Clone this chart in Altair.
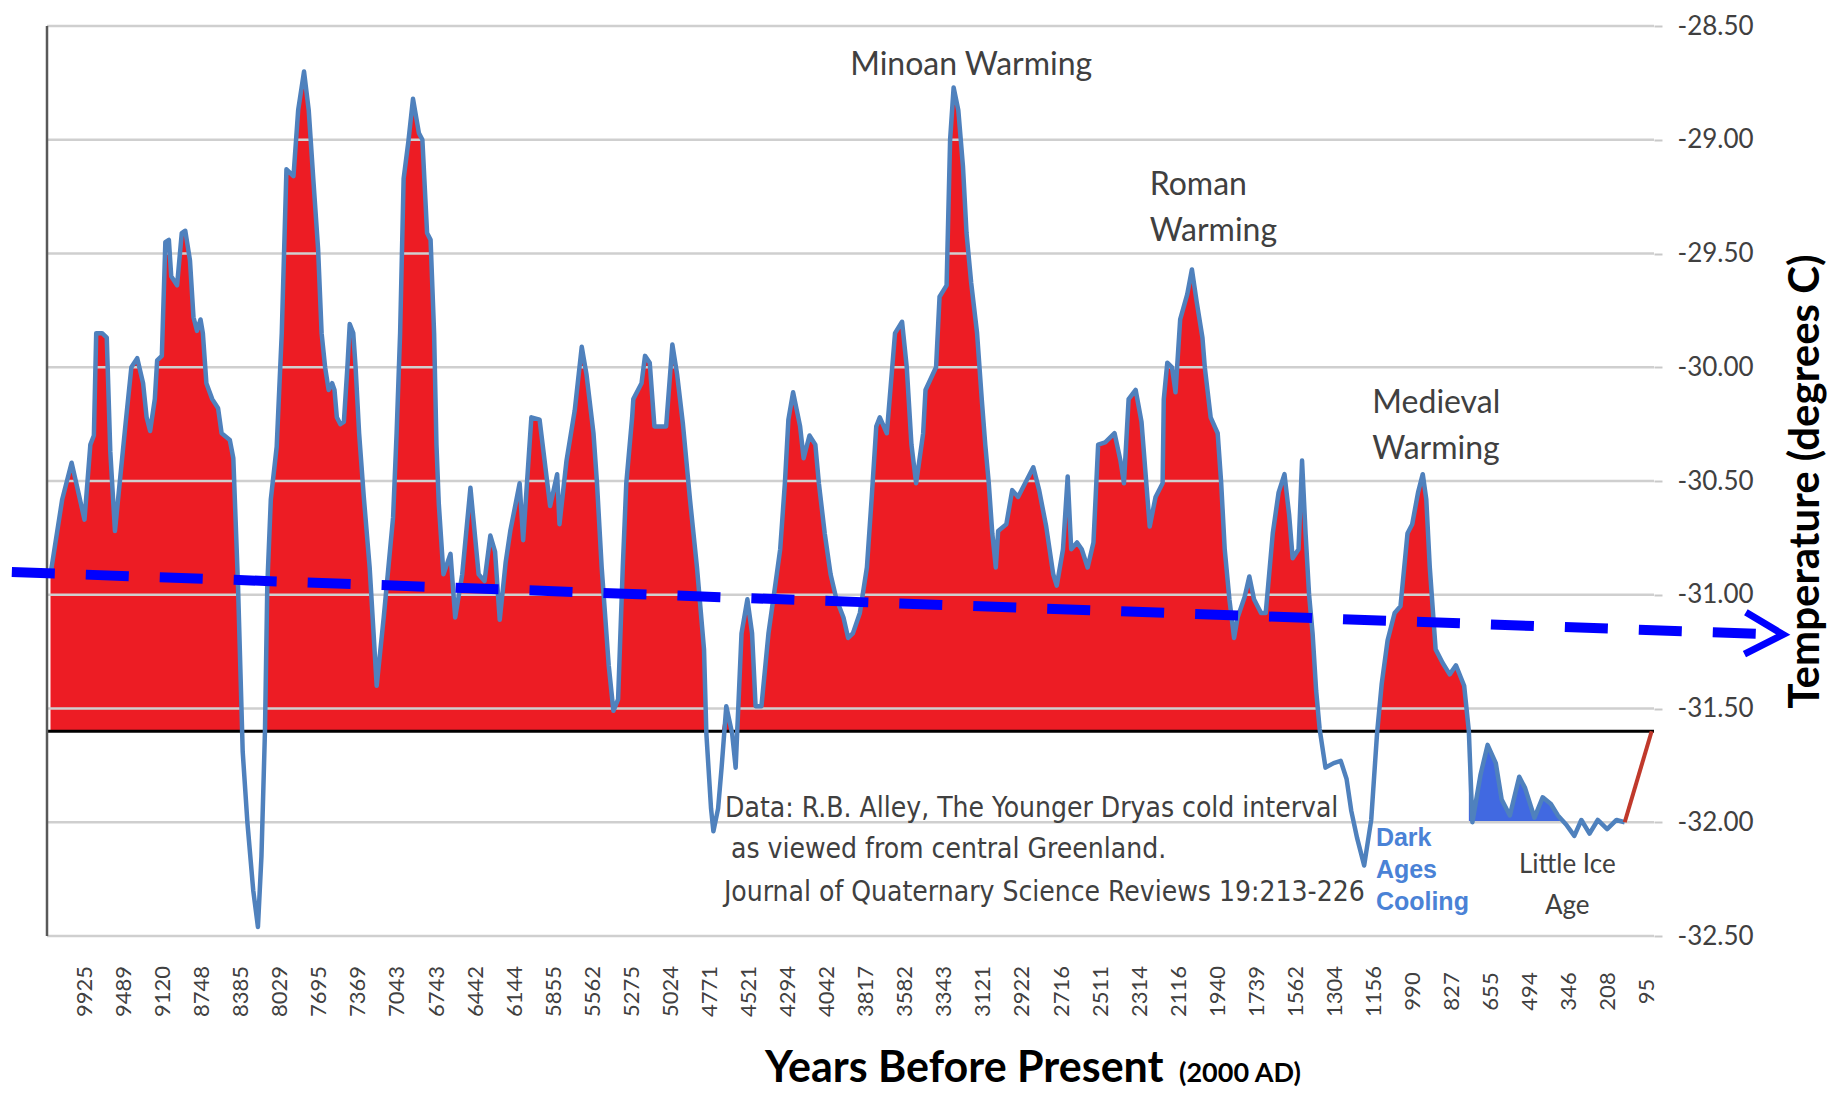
import json
import altair as alt
import pandas as pd

# ---------------- data ----------------
tick_labels = ["9925", "9489", "9120", "8748", "8385", "8029", "7695", "7369", "7043", "6743",
               "6442", "6144", "5855", "5562", "5275", "5024", "4771", "4521", "4294", "4042",
               "3817", "3582", "3343", "3121", "2922", "2716", "2511", "2314", "2116", "1940",
               "1739", "1562", "1304", "1156", "990", "827", "655", "494", "346", "208", "95"]

# position along the category axis (in label steps) and temperature (deg C)
pos = [
    -0.87, -0.57, -0.33, -0.21, 0.00, 0.15, 0.24, 0.30, 0.45, 0.57,
    0.66, 0.78, 0.90, 1.05, 1.20, 1.35, 1.50, 1.59, 1.68, 1.80,
    1.86, 1.98, 2.07, 2.16, 2.22, 2.37, 2.49, 2.58, 2.70, 2.79,
    2.88, 2.97, 3.03, 3.12, 3.27, 3.42, 3.51, 3.72, 3.81, 3.93,
    4.05, 4.17, 4.32, 4.44, 4.53, 4.62, 4.68, 4.77, 4.92, 5.05,
    5.17, 5.35, 5.47, 5.62, 5.74, 5.86, 5.98, 6.07, 6.16, 6.25,
    6.34, 6.40, 6.46, 6.55, 6.64, 6.73, 6.79, 6.88, 6.94, 7.03,
    7.15, 7.30, 7.48, 7.66, 7.90, 7.99, 8.08, 8.17, 8.29, 8.41,
    8.56, 8.65, 8.77, 8.86, 8.95, 9.01, 9.07, 9.19, 9.37, 9.49,
    9.67, 9.88, 10.09, 10.24, 10.39, 10.51, 10.63, 10.78, 10.90, 11.14,
    11.23, 11.44, 11.65, 11.92, 12.10, 12.16, 12.34, 12.55, 12.73, 12.85,
    13.03, 13.12, 13.24, 13.42, 13.54, 13.66, 13.78, 13.87, 14.02, 14.05,
    14.26, 14.35, 14.47, 14.59, 14.89, 15.05, 15.17, 15.32, 15.50, 15.68,
    15.86, 15.92, 16.04, 16.10, 16.22, 16.31, 16.43, 16.58, 16.67, 16.82,
    16.97, 17.09, 17.18, 17.33, 17.51, 17.69, 17.81, 17.93, 18.02, 18.14,
    18.32, 18.41, 18.56, 18.71, 18.80, 18.95, 19.10, 19.25, 19.43, 19.55,
    19.67, 19.85, 20.03, 20.15, 20.27, 20.36, 20.54, 20.75, 20.93, 21.05,
    21.17, 21.29, 21.47, 21.53, 21.80, 21.89, 22.07, 22.16, 22.25, 22.37,
    22.49, 22.58, 22.70, 22.85, 22.97, 23.06, 23.15, 23.24, 23.33, 23.39,
    23.60, 23.75, 23.90, 24.08, 24.29, 24.44, 24.62, 24.80, 24.89, 25.05,
    25.17, 25.26, 25.41, 25.53, 25.68, 25.83, 25.95, 26.13, 26.37, 26.52,
    26.61, 26.73, 26.91, 27.06, 27.27, 27.42, 27.60, 27.63, 27.72, 27.84,
    27.93, 28.05, 28.23, 28.35, 28.47, 28.62, 28.68, 28.83, 29.01, 29.10,
    29.19, 29.31, 29.43, 29.52, 29.70, 29.82, 29.94, 30.12, 30.24, 30.42,
    30.57, 30.72, 30.84, 30.93, 31.08, 31.17, 31.26, 31.35, 31.44, 31.53,
    31.62, 31.77, 31.98, 32.16, 32.31, 32.43, 32.58, 32.76, 32.94, 33.09,
    33.21, 33.36, 33.54, 33.69, 33.87, 33.99, 34.14, 34.26, 34.35, 34.44,
    34.59, 34.77, 34.95, 35.11, 35.32, 35.44, 35.53, 35.74, 35.92, 36.13,
    36.28, 36.49, 36.73, 36.88, 37.12, 37.33, 37.54, 37.72, 37.93, 38.14,
    38.32, 38.53, 38.74, 38.98, 39.22, 39.43, 40.12,
]
temp = [
    -30.91, -30.58, -30.42, -30.51, -30.67, -30.34, -30.30, -29.85, -29.85, -29.87,
    -30.37, -30.72, -30.51, -30.25, -30.00, -29.96, -30.07, -30.22, -30.28, -30.14,
    -29.97, -29.95, -29.45, -29.44, -29.60, -29.64, -29.41, -29.40, -29.53, -29.78,
    -29.84, -29.79, -29.85, -30.07, -30.14, -30.18, -30.29, -30.32, -30.40, -30.96,
    -31.69, -32.00, -32.30, -32.46, -32.15, -31.60, -30.96, -30.58, -30.35, -29.85,
    -29.13, -29.16, -28.87, -28.70, -28.87, -29.18, -29.48, -29.85, -30.00, -30.10,
    -30.07, -30.10, -30.22, -30.25, -30.24, -30.00, -29.81, -29.85, -30.00, -30.29,
    -30.57, -30.88, -31.40, -31.10, -30.66, -30.29, -29.85, -29.17, -29.01, -28.82,
    -28.97, -29.00, -29.41, -29.44, -29.85, -30.34, -30.60, -30.91, -30.82, -31.10,
    -30.91, -30.53, -30.91, -30.94, -30.74, -30.81, -31.11, -30.86, -30.72, -30.51,
    -30.76, -30.22, -30.23, -30.61, -30.47, -30.69, -30.41, -30.19, -29.91, -30.03,
    -30.29, -30.51, -30.88, -31.31, -31.51, -31.46, -30.88, -30.51, -30.22, -30.14,
    -30.07, -29.95, -29.98, -30.26, -30.26, -29.90, -30.03, -30.25, -30.58, -30.88,
    -31.24, -31.61, -31.94, -32.04, -31.94, -31.76, -31.49, -31.61, -31.76, -31.17,
    -31.02, -31.17, -31.49, -31.49, -31.17, -30.95, -30.80, -30.51, -30.23, -30.11,
    -30.26, -30.40, -30.30, -30.34, -30.51, -30.73, -30.91, -31.02, -31.10, -31.19,
    -31.17, -31.08, -30.88, -30.58, -30.26, -30.22, -30.29, -29.85, -29.80, -30.00,
    -30.34, -30.51, -30.29, -30.10, -30.00, -29.69, -29.64, -29.00, -28.77, -28.87,
    -29.12, -29.41, -29.63, -29.85, -30.14, -30.34, -30.51, -30.73, -30.88, -30.72,
    -30.69, -30.54, -30.57, -30.51, -30.44, -30.54, -30.70, -30.91, -30.96, -30.80,
    -30.48, -30.80, -30.77, -30.80, -30.88, -30.77, -30.34, -30.33, -30.29, -30.41,
    -30.51, -30.14, -30.10, -30.24, -30.70, -30.57, -30.51, -30.14, -29.98, -30.00,
    -30.11, -29.79, -29.68, -29.57, -29.71, -29.87, -30.00, -30.22, -30.29, -30.51,
    -30.80, -31.02, -31.19, -31.10, -31.01, -30.92, -31.02, -31.08, -31.08, -30.73,
    -30.55, -30.47, -30.65, -30.84, -30.80, -30.41, -30.73, -31.00, -31.17, -31.42,
    -31.59, -31.76, -31.74, -31.73, -31.81, -31.95, -32.07, -32.19, -31.99, -31.61,
    -31.39, -31.20, -31.08, -31.05, -30.73, -30.69, -30.55, -30.47, -30.58, -30.88,
    -31.24, -31.30, -31.35, -31.31, -31.40, -31.60, -32.00, -31.79, -31.66, -31.74,
    -31.90, -31.97, -31.80, -31.85, -31.98, -31.89, -31.92, -31.97, -32.01, -32.06,
    -31.99, -32.05, -31.99, -32.03, -31.99, -32.00, -31.60,
]

grid_values = [-28.5, -29.0, -29.5, -30.0, -30.5, -31.0, -31.5, -32.0, -32.5]
baseline_value = -31.6          # red fill reference
lia_floor = -32.0               # blue fill reference (Little Ice Age)
lia_start, lia_end = 35.44, 39.43
x_domain = [-0.96, 40.18]

trend_pos = [-1.86, 43.30]
trend_temp = [-30.90, -31.175]
arrow_pos = [43.00]
arrow_temp = [-31.172]

warm_labels = ["Minoan Warming"]
warm_pos = [22.70]
warm_temp = [-28.67]
left_labels = ["Roman", "Warming", "Medieval", "Warming"]
left_pos = [27.27, 27.27, 32.97, 32.97]
left_temp = [-29.20, -29.40, -30.155, -30.36]
cite_labels = ["Data: R.B. Alley,  The Younger Dryas cold interval",
               " as viewed from central Greenland.",
               "Journal of Quaternary  Science Reviews 19:213-226"]
cite_pos = [16.40, 16.55, 16.37]
cite_temp = [-31.94, -32.12, -32.31]
dark_labels = ["Dark", "Ages", "Cooling"]
dark_pos = [33.06, 33.06, 33.06]
dark_temp = [-32.07, -32.21, -32.35]
lia_labels = ["Little Ice", "Age"]
lia_pos = [37.96, 37.96]
lia_temp = [-32.19, -32.37]
xtitle_main = ["Years Before Present"]
xtitle_main_pos = [17.42]
xtitle_sub = ["(2000 AD)"]
xtitle_sub_pos = [28.02]
xtitle_temp = [-33.14]

# ---------------- chart ----------------
df = pd.DataFrame({"t": pos, "temp": temp})
grid_df = pd.DataFrame({"g": grid_values})
base_df = pd.DataFrame({"g": [baseline_value]})
left_df = pd.DataFrame({"x": [x_domain[0]]})
trend_df = pd.DataFrame({"t": trend_pos, "temp": trend_temp})
arrow_df = pd.DataFrame({"t": arrow_pos, "temp": arrow_temp})

xs = alt.Scale(domain=x_domain, nice=False, zero=False)
ys = alt.Scale(domain=[-32.5, -28.5], nice=False, zero=False)

x_axis = alt.Axis(values=list(range(len(tick_labels))),
                  labelExpr=json.dumps(tick_labels) + "[datum.value]",
                  title=None, grid=False, ticks=False, domain=False,
                  labelAngle=270, labelAlign="center", labelBaseline="middle",
                  labelPadding=55, labelFont="Lato", labelFontSize=22,
                  labelColor="#404040", labelOverlap=False, labelFlush=False)
y_axis = alt.Axis(orient="right", values=grid_values,
                  labelExpr="'-' + format(-datum.value, '.2f')",
                  grid=False, domain=False, ticks=True, tickSize=8,
                  tickColor="#c8c8c8", tickWidth=2, labelPadding=15,
                  labelFont="Lato", labelFontSize=26, labelColor="#404040",
                  labelAlign="left", labelBaseline="middle", labelFlush=False,
                  title="Temperature (degrees C)", titleFont="Lato",
                  titleFontSize=42, titleFontWeight="bold", titleColor="#000000",
                  titleAngle=270, titleX=151, titleY=455,
                  titleAlign="center", titleBaseline="middle")


def X(field="t"):
    return alt.X(f"{field}:Q", scale=xs, axis=x_axis)


def Y(field="temp"):
    return alt.Y(f"{field}:Q", scale=ys, axis=y_axis)


red_area = alt.Chart(df).transform_calculate(
    ytop=f"max(datum.temp, {baseline_value})", ybase=f"{baseline_value}"
).mark_area(color="#ed1c24", interpolate="linear").encode(
    x=X(), y=Y("ytop"), y2=alt.Y2("ybase:Q"))

blue_area = alt.Chart(df).transform_filter(
    f"datum.t >= {lia_start} && datum.t <= {lia_end}"
).transform_calculate(
    yb=f"max(datum.temp, {lia_floor})", yf=f"{lia_floor}"
).mark_area(color="#4169e1", interpolate="linear").encode(
    x=X(), y=Y("yb"), y2=alt.Y2("yf:Q"))

grid = alt.Chart(grid_df).mark_rule(color="#cfcfcf", strokeWidth=2.5).encode(y=Y("g"))
base = alt.Chart(base_df).mark_rule(color="#000000", strokeWidth=3).encode(y=Y("g"))
left_line = alt.Chart(left_df).mark_rule(color="#595959", strokeWidth=2.5).encode(x=X("x"))

line = alt.Chart(df).transform_filter(f"datum.t <= {lia_end}").mark_line(
    color="#4f81bd", strokeWidth=4.5, strokeJoin="round").encode(x=X(), y=Y())
end_seg = alt.Chart(df).transform_filter(f"datum.t >= {lia_end}").mark_line(
    color="#c0392b", strokeWidth=4).encode(x=X(), y=Y())

trend = alt.Chart(trend_df).mark_line(
    color="#0000ff", strokeWidth=10, strokeDash=[43, 31], strokeCap="butt").encode(x=X(), y=Y())
arrow = alt.Chart(arrow_df).mark_point(
    shape="M-1,-1.1L1,0L-1,1.1", filled=False, size=1444, strokeWidth=7,
    color="#0000ff", opacity=1, angle=2).encode(x=X(), y=Y())


def text_layer(labels, xp, yp, **kw):
    d = pd.DataFrame({"t": xp, "temp": yp, "label": labels})
    return alt.Chart(d).mark_text(**kw).encode(x=X(), y=Y(), text="label:N")


grey = "#404040"
t_minoan = text_layer(warm_labels, warm_pos, warm_temp, font="Lato", fontSize=32,
                      color=grey, align="center", baseline="middle")
t_left = text_layer(left_labels, left_pos, left_temp, font="Lato", fontSize=32,
                    color=grey, align="left", baseline="middle")
t_cite = text_layer(cite_labels, cite_pos, cite_temp,
                    font="Liberation Sans Narrow, DejaVu Sans Condensed, Lato",
                    fontSize=28, color=grey, align="left", baseline="middle")
t_dark = text_layer(dark_labels, dark_pos, dark_temp, font="Liberation Sans",
                    fontSize=25, fontWeight="bold", color="#4a82d6",
                    align="left", baseline="middle")
t_lia = text_layer(lia_labels, lia_pos, lia_temp, font="Lato", fontSize=26,
                   color=grey, align="center", baseline="middle")
t_xt1 = text_layer(xtitle_main, xtitle_main_pos, xtitle_temp, font="Lato", fontSize=43,
                   fontWeight="bold", color="#000000", align="left", baseline="alphabetic")
t_xt2 = text_layer(xtitle_sub, xtitle_sub_pos, xtitle_temp, font="Lato", fontSize=27,
                   fontWeight="bold", color="#000000", align="left", baseline="alphabetic")

chart = alt.layer(
    red_area, blue_area, grid, base, left_line, line, end_seg,
    t_minoan, t_left, t_cite, t_dark, t_lia, t_xt1, t_xt2,
    trend, arrow,
).properties(
    width=1607, height=910,
    autosize=alt.AutoSizeParams(type="none"),
    padding={"left": 39, "top": 18, "right": 177, "bottom": 154},
    background="#ffffff",
).configure_view(stroke=None)

chart.save("out.html", embed_options={"renderer": "svg", "actions": False})
